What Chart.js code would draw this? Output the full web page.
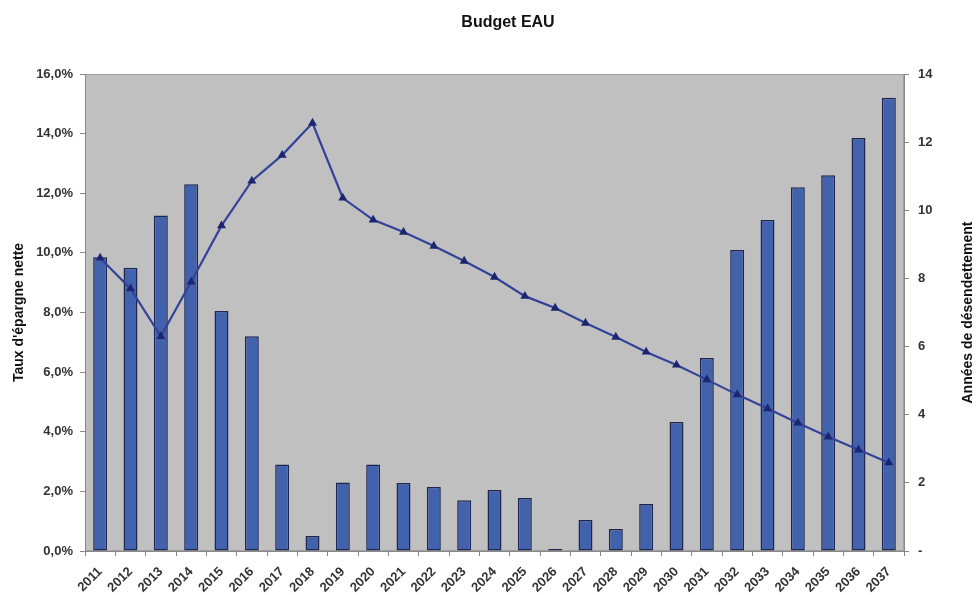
<!DOCTYPE html>
<html>
<head>
<meta charset="utf-8">
<script src="https://cdn.jsdelivr.net/npm/chart.js@4"></script>
<style>
  html, body { margin: 0; padding: 0; background: #fff; }
  #wrap { width: 978px; height: 595px; }
</style>
</head>
<body>
<div id="wrap"><canvas id="chart" width="978" height="595"></canvas></div>
<script>
var years = ['2011','2012','2013','2014','2015','2016','2017','2018','2019','2020','2021','2022','2023','2024','2025','2026','2027','2028','2029','2030','2031','2032','2033','2034','2035','2036','2037'];
// Taux d'épargne nette (%), left axis
var tauxEpargne = [9.85, 9.5, 11.25, 12.3, 8.05, 7.2, 2.9, 0.5, 2.3, 2.9, 2.28, 2.15, 1.7, 2.05, 1.78, 0.07, 1.04, 0.74, 1.58, 4.33, 6.47, 10.1, 11.1, 12.2, 12.6, 13.85, 15.2];
// Années de désendettement, right axis
var anneesDes = [8.6, 7.7, 6.3, 7.9, 9.55, 10.86, 11.62, 12.56, 10.36, 9.72, 9.36, 8.95, 8.51, 8.04, 7.48, 7.13, 6.69, 6.28, 5.84, 5.46, 5.03, 4.59, 4.18, 3.76, 3.35, 2.97, 2.59];

var fontFamily = '"Liberation Sans", Arial, sans-serif';

// gray plot area + titles (right title reads bottom to top, like Excel)
var decor = {
    id: 'decor',
    beforeDraw: function(c) {
        var a = c.chartArea, ctx = c.ctx;
        ctx.save();
        ctx.fillStyle = '#c0c0c0';
        ctx.fillRect(a.left, a.top, a.right - a.left, a.bottom - a.top);
        ctx.strokeStyle = '#a0a0a0';
        ctx.lineWidth = 1;
        ctx.strokeRect(a.left + 0.5, a.top + 0.5, a.right - a.left - 1, a.bottom - a.top - 1);
        ctx.restore();
    },
    afterDraw: function(c) {
        var a = c.chartArea, ctx = c.ctx;
        var mid = (a.top + a.bottom) / 2;
        ctx.save();
        ctx.fillStyle = '#111';
        ctx.textAlign = 'center';
        ctx.textBaseline = 'middle';
        ctx.font = 'bold 16px ' + fontFamily;
        ctx.fillText('Budget EAU', 508, 23);
        ctx.font = 'bold 14px ' + fontFamily;
        ctx.translate(19, mid);
        ctx.rotate(-Math.PI / 2);
        ctx.fillText("Taux d'épargne nette", 0, 0);
        ctx.restore();
        ctx.save();
        ctx.fillStyle = '#111';
        ctx.textAlign = 'center';
        ctx.textBaseline = 'middle';
        ctx.font = 'bold 14px ' + fontFamily;
        ctx.translate(968, mid);
        ctx.rotate(-Math.PI / 2);
        ctx.fillText('Années de désendettement', 0, 0);
        ctx.restore();
    }
};

var tickFont = { family: fontFamily, size: 13, weight: 'bold' };

var chart = new Chart(document.getElementById('chart'), {
    type: 'bar',
    data: {
        labels: years,
        datasets: [{
            type: 'line',
            label: 'Années de désendettement',
            data: anneesDes,
            yAxisID: 'y1',
            borderColor: '#34429a',
            borderWidth: 2.2,
            pointStyle: 'triangle',
            pointRadius: 3,
            pointBackgroundColor: '#1c2570',
            pointBorderColor: '#1c2570',
            tension: 0,
            order: 0
        }, {
            label: "Taux d'épargne nette",
            data: tauxEpargne,
            yAxisID: 'y',
            backgroundColor: '#4262ae',
            borderColor: '#1e2650',
            borderWidth: 1.5,
            borderSkipped: false,
            barPercentage: 0.46,
            categoryPercentage: 1,
            order: 1
        }]
    },
    options: {
        responsive: false,
        animation: false,
        layout: { padding: { top: 74, left: 0, right: 0, bottom: 0 } },
        plugins: {
            legend: { display: false },
            title: { display: false },
            tooltip: { enabled: false }
        },
        scales: {
            x: {
                grid: { drawOnChartArea: false, tickLength: 5, color: '#888', offset: true },
                border: { color: '#888' },
                ticks: { color: '#333', font: tickFont, maxRotation: 45, minRotation: 45, autoSkip: false, padding: 8 },
                afterFit: function(s) { s.height = 44; }
            },
            y: {
                position: 'left',
                min: 0, max: 16,
                grid: { drawOnChartArea: false, tickLength: 5, color: '#888' },
                border: { color: '#888' },
                ticks: {
                    stepSize: 2, color: '#333', font: tickFont, padding: 7,
                    callback: function(v) { return v.toFixed(1).replace('.', ',') + '%'; }
                },
                afterFit: function(s) { s.width = 85; }
            },
            y1: {
                position: 'right',
                min: 0, max: 14,
                grid: { drawOnChartArea: false, tickLength: 5, color: '#888' },
                border: { color: '#888' },
                ticks: {
                    stepSize: 2, color: '#333', font: tickFont, padding: 9,
                    callback: function(v) { return v === 0 ? '-' : v; }
                },
                afterFit: function(s) { s.width = 74; }
            }
        }
    },
    plugins: [decor]
});
</script>
</body>
</html>
